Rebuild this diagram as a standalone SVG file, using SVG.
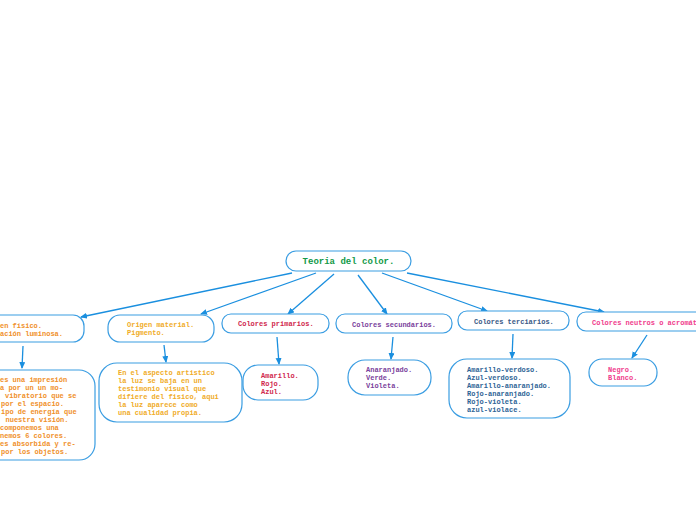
<svg xmlns="http://www.w3.org/2000/svg" width="696" height="520" viewBox="0 0 696 520">
<defs>
<marker id="ah" markerWidth="8" markerHeight="8" refX="6" refY="3" orient="auto" markerUnits="userSpaceOnUse">
<path d="M0,0 L7,3 L0,6 Z" fill="#1a8fdf"/>
</marker>
<style>
.box{fill:#fff;stroke:#3a9de2;stroke-width:1.2}
.t{font-family:"Liberation Mono","Courier New",monospace;font-weight:bold;font-size:7px}
.big{font-size:9px}
.c{stroke:#1a8fdf;stroke-width:1.3;fill:none;marker-end:url(#ah)}
</style>
</defs>
<rect width="696" height="520" fill="#fff"/>
<g id="connectors">
<line class="c" x1="292" y1="273" x2="81" y2="317"/>
<line class="c" x1="316" y1="273" x2="201" y2="314"/>
<line class="c" x1="334" y1="274" x2="288" y2="314"/>
<line class="c" x1="358" y1="275" x2="387" y2="314"/>
<line class="c" x1="382" y1="273" x2="487" y2="311"/>
<line class="c" x1="407" y1="273" x2="604" y2="312"/>
<line class="c" x1="23" y1="346" x2="22" y2="368"/>
<line class="c" x1="164" y1="345" x2="166" y2="362"/>
<line class="c" x1="277" y1="337" x2="279" y2="364"/>
<line class="c" x1="393" y1="337" x2="391" y2="359"/>
<line class="c" x1="513" y1="334" x2="512" y2="358"/>
<line class="c" x1="647" y1="335" x2="632" y2="358"/>
</g>
<g id="root">
<rect class="box" x="286" y="251" width="125" height="20" rx="10"/>
<text class="t big" x="348.5" y="264" text-anchor="middle" fill="#129a48">Teoria del color.</text>
</g>
<g id="origen-fisico">
<rect class="box" x="-20" y="315" width="104" height="27" rx="11"/>
<text class="t" fill="#f0902a"><tspan x="0" y="327.5">en físico.</tspan><tspan x="0" y="335.5">ación luminosa.</tspan></text>
</g>
<g id="origen-material">
<rect class="box" x="108" y="315" width="106" height="27" rx="12"/>
<text class="t" fill="#f0ac28"><tspan x="127" y="326.5">Origen material.</tspan><tspan x="127" y="335">Pigmento.</tspan></text>
</g>
<g id="primarios">
<rect class="box" x="222" y="314" width="107" height="19" rx="9"/>
<text class="t" x="238" y="326" fill="#d0284c">Colores primarios.</text>
</g>
<g id="secundarios">
<rect class="box" x="336" y="314" width="116" height="19" rx="9"/>
<text class="t" x="352" y="326.5" fill="#7a3f9c">Colores secundarios.</text>
</g>
<g id="terciarios">
<rect class="box" x="458" y="311" width="111" height="19" rx="9"/>
<text class="t" x="474" y="323.5" fill="#3a5a86">Colores terciarios.</text>
</g>
<g id="neutros">
<rect class="box" x="577" y="312" width="140" height="19" rx="9"/>
<text class="t" x="592" y="324.5" fill="#f03c8c">Colores neutros o acromát</text>
</g>
<g id="fisico-desc">
<rect class="box" x="-30" y="370" width="125" height="90" rx="16"/>
<text class="t" fill="#f0902a">
<tspan x="0" y="381.5">es una impresión</tspan>
<tspan x="0" y="389.5">a por un un mo-</tspan>
<tspan x="5" y="397.5">vibratorio que se</tspan>
<tspan x="1" y="405.5">por el espacio.</tspan>
<tspan x="1" y="413.5">ipo de energía que</tspan>
<tspan x="5.5" y="421.5">nuestra visión.</tspan>
<tspan x="0" y="429.5">componemos una</tspan>
<tspan x="0" y="437.5">nemos 6 colores.</tspan>
<tspan x="0" y="445.5">es absorbida y re-</tspan>
<tspan x="1" y="453.5">por los objetos.</tspan>
</text>
</g>
<g id="material-desc">
<rect class="box" x="99" y="363" width="143" height="59" rx="18"/>
<text class="t" fill="#f0ac28">
<tspan x="118" y="374.5">En el aspecto artistico</tspan>
<tspan x="118" y="382.5">la luz se baja en un</tspan>
<tspan x="118" y="390.5">testimonio visual que</tspan>
<tspan x="118" y="398.5">difiere del fisico, aqui</tspan>
<tspan x="118" y="406.5">la luz aparece como</tspan>
<tspan x="118" y="414.5">una cualidad propia.</tspan>
</text>
</g>
<g id="primarios-list">
<rect class="box" x="243" y="365" width="75" height="35" rx="15"/>
<text class="t" fill="#d0284c">
<tspan x="261" y="377.5">Amarillo.</tspan>
<tspan x="261" y="385.5">Rojo.</tspan>
<tspan x="261" y="393.5">Azul.</tspan>
</text>
</g>
<g id="secundarios-list">
<rect class="box" x="348" y="360" width="83" height="35" rx="17"/>
<text class="t" fill="#7a3f9c">
<tspan x="366" y="371.5">Anaranjado.</tspan>
<tspan x="366" y="379.5">Verde.</tspan>
<tspan x="366" y="387.5">Violeta.</tspan>
</text>
</g>
<g id="terciarios-list">
<rect class="box" x="449" y="359" width="121" height="59" rx="18"/>
<text class="t" fill="#2e6496">
<tspan x="467" y="371.5">Amarillo-verdoso.</tspan>
<tspan x="467" y="379.5">Azul-verdoso.</tspan>
<tspan x="467" y="387.5">Amarillo-anaranjado.</tspan>
<tspan x="467" y="395.5">Rojo-anaranjado.</tspan>
<tspan x="467" y="403.5">Rojo-violeta.</tspan>
<tspan x="467" y="411.5">azul-violace.</tspan>
</text>
</g>
<g id="neutros-list">
<rect class="box" x="589" y="359" width="68" height="27" rx="13"/>
<text class="t" fill="#f03c8c">
<tspan x="608" y="371.5">Negro.</tspan>
<tspan x="608" y="379.5">Blanco.</tspan>
</text>
</g>
</svg>
